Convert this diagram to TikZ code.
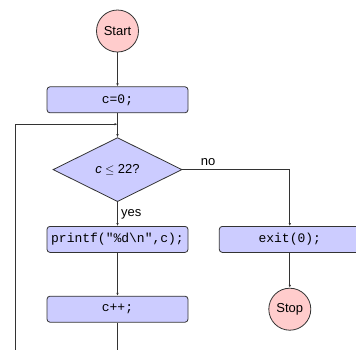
\documentclass[tikz,border=0pt]{standalone}
\usepackage{fontspec}
\setmainfont{Liberation Sans}
\setmonofont{Liberation Mono}
\usetikzlibrary{shapes.geometric, arrows.meta, positioning}

\begin{document}
\begin{tikzpicture}[
			x=1pt, y=1pt,
			font=\fontsize{13}{15}\selectfont,
			line width=0.8pt,
			term/.style = {
				circle, draw=black!80, fill=red!20,
				minimum size=42pt, inner sep=0pt
			},
			stmt/.style = {
				rectangle, rounded corners=3pt, draw=black!80, fill=blue!20,
				minimum width=141pt, minimum height=26pt, inner sep=0pt,
				font=\fontsize{13}{15}\selectfont\ttfamily
			},
			test/.style = {
				diamond, draw=black!80, fill=blue!20,
				minimum width=129pt, minimum height=64pt, inner sep=0pt
			},
			flow/.style = {
				-{Latex[length=3pt,width=2.5pt]}, black!80
			}]
			\useasboundingbox (0,0) rectangle (356,-349);
			\clip (0,0) rectangle (356,-349);
			\node (start) [term] at (117.5,-31) {Start};
			\node (init) [stmt, below = 34pt of start] {c=0;};
			\node (dec) [test, below = 24pt of init] {\textit{c}$\;\leq\;$22?};
			\node (printf) [stmt, below = 24pt of dec] {printf("\%d\textbackslash n",c);};
			\node (incr) [stmt, below = 43pt of printf] {c++;};
			\node (exit) [stmt, right = 30.5pt of printf] {exit(0);};
			\node (stop) [term, below = 35pt of exit] {Stop};
			% loop back
			\coordinate (join) at ([yshift=-11pt]init.south);
			\coordinate (back) at ([yshift=-40pt]incr.south);
			\coordinate (side) at ([xshift=-102.5pt]join);
			\path [flow]
			(start) edge (init)
			(init) edge (dec)
			(dec) edge node[right, black] {yes} (printf)
			(printf) edge (incr)
			(exit) edge (stop);
			\draw [flow] (dec) -| node[above, pos=0.12, black] {no} (exit);
			\draw [flow] (incr) -- (back) -| (side) -- (join);
		\end{tikzpicture}
\end{document}
